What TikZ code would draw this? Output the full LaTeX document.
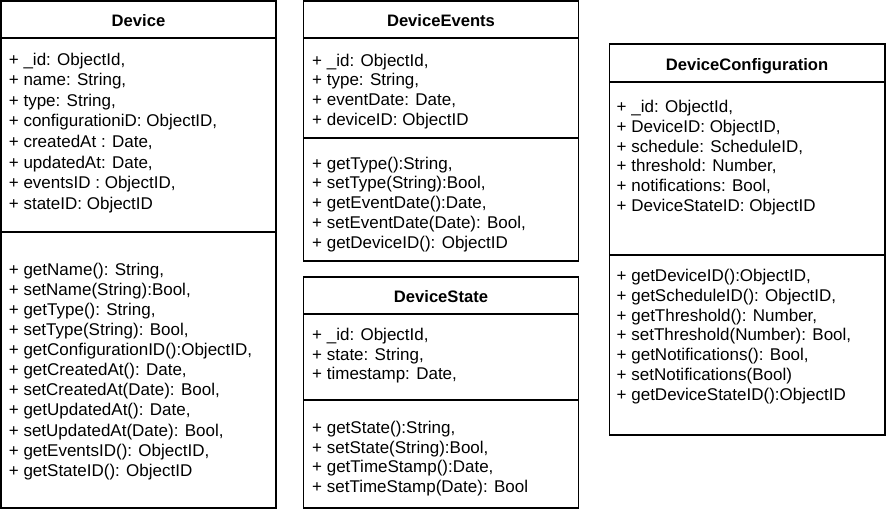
\documentclass[tikz,border=0pt]{standalone}
\usepackage{fontspec}
\setmainfont{Liberation Sans}
\begin{document}
\begin{tikzpicture}[x=1pt,y=-1pt]
\tikzset{
  classbox/.style={draw=black, line width=1.3pt},
  classsep/.style={draw=black, line width=1.3pt},
  classname/.style={font=\bfseries\fontsize{16.6}{20}\selectfont, anchor=base, inner sep=0pt},
  member/.style={font=\fontsize{17}{20}\selectfont, anchor=base west, inner sep=0pt},
}
\useasboundingbox (0,0) rectangle (888,514);

% ---------- Device ----------
\draw[classbox] (1,1) rectangle (276,508);
\draw[classsep] (1,38) -- (276,38);
\draw[classsep] (1,232) -- (276,232);
\node[classname] (device) at (138.5,26.5) {Device};
\foreach [count=\i from 0] \t in {
  {+ \_id: ObjectId,},
  {+ name: String,},
  {+ type: String,},
  {+ configurationiD: ObjectID,},
  {+ createdAt : Date,},
  {+ updatedAt: Date,},
  {+ eventsID : ObjectID,},
  {+ stateID: ObjectID}}
  \node[member] (device-attr-\i) at (8.7,{65+20.6*\i}) {\t};
\foreach [count=\i from 0] \t in {
  {+ getName(): String,},
  {+ setName(String):Bool,},
  {+ getType(): String,},
  {+ setType(String): Bool,},
  {+ getConfigurationID():ObjectID,},
  {+ getCreatedAt(): Date,},
  {+ setCreatedAt(Date): Bool,},
  {+ getUpdatedAt(): Date,},
  {+ setUpdatedAt(Date): Bool,},
  {+ getEventsID(): ObjectID,},
  {+ getStateID(): ObjectID}}
  \node[member] (device-op-\i) at (8.7,{275+20.14*\i}) {\t};

% ---------- DeviceEvents ----------
\draw[classbox] (303.5,1) rectangle (578.5,261);
\draw[classsep] (303.5,38) -- (578.5,38);
\draw[classsep] (303.5,138) -- (578.5,138);
\node[classname] (events) at (441,26.5) {DeviceEvents};
\foreach [count=\i from 0] \t in {
  {+ \_id: ObjectId,},
  {+ type: String,},
  {+ eventDate: Date,},
  {+ deviceID: ObjectID}}
  \node[member] (events-attr-\i) at (312,{66.3+19.6*\i}) {\t};
\foreach [count=\i from 0] \t in {
  {+ getType():String,},
  {+ setType(String):Bool,},
  {+ getEventDate():Date,},
  {+ setEventDate(Date): Bool,},
  {+ getDeviceID(): ObjectID}}
  \node[member] (events-op-\i) at (312,{169+19.75*\i}) {\t};

% ---------- DeviceState ----------
\draw[classbox] (303.5,277) rectangle (578.5,508);
\draw[classsep] (303.5,314) -- (578.5,314);
\draw[classsep] (303.5,400) -- (578.5,400);
\node[classname] (state) at (441,302.5) {DeviceState};
\foreach [count=\i from 0] \t in {
  {+ \_id: ObjectId,},
  {+ state: String,},
  {+ timestamp: Date,}}
  \node[member] (state-attr-\i) at (312,{340.8+19.4*\i}) {\t};
\foreach [count=\i from 0] \t in {
  {+ getState():String,},
  {+ setState(String):Bool,},
  {+ getTimeStamp():Date,},
  {+ setTimeStamp(Date): Bool}}
  \node[member] (state-op-\i) at (312,{433.5+19.7*\i}) {\t};

% ---------- DeviceConfiguration ----------
\draw[classbox] (609.5,44) rectangle (885,435);
\draw[classsep] (609.5,82) -- (885,82);
\draw[classsep] (609.5,255) -- (885,255);
\node[classname] (config) at (747,70.5) {DeviceConfiguration};
\foreach [count=\i from 0] \t in {
  {+ \_id: ObjectId,},
  {+ DeviceID: ObjectID,},
  {+ schedule: ScheduleID,},
  {+ threshold: Number,},
  {+ notifications: Bool,},
  {+ DeviceStateID: ObjectID}}
  \node[member] (config-attr-\i) at (616.5,{112.5+19.8*\i}) {\t};
\foreach [count=\i from 0] \t in {
  {+ getDeviceID():ObjectID,},
  {+ getScheduleID(): ObjectID,},
  {+ getThreshold(): Number,},
  {+ setThreshold(Number): Bool,},
  {+ getNotifications(): Bool,},
  {+ setNotifications(Bool)},
  {+ getDeviceStateID():ObjectID}}
  \node[member] (config-op-\i) at (616.5,{281.8+19.7*\i}) {\t};
\end{tikzpicture}
\end{document}
